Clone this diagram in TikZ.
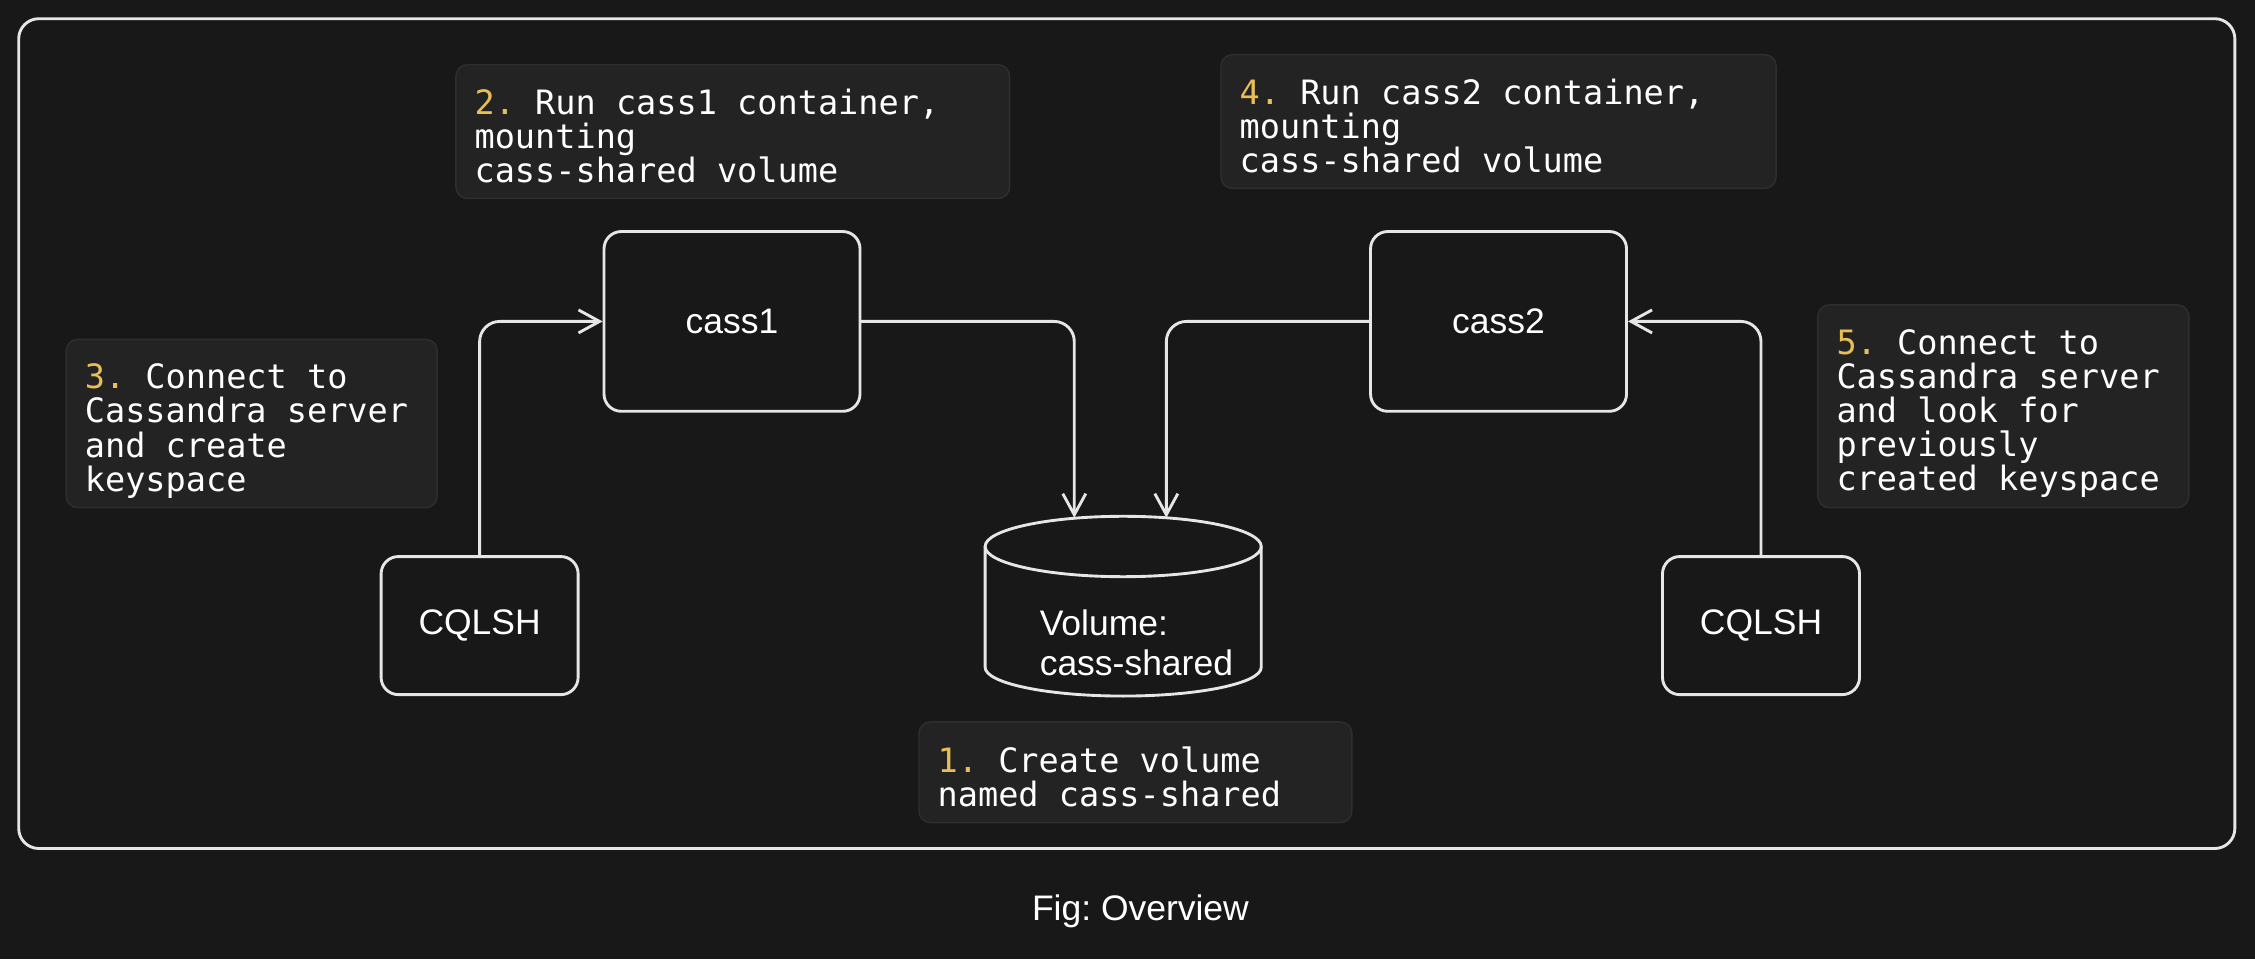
\documentclass[tikz,border=0pt]{standalone}
\usepackage{fontspec}
\setmainfont{Liberation Sans}
\newfontfamily\codefont{DejaVu Sans Mono}
\usetikzlibrary{arrows.meta}
\frenchspacing

\definecolor{bgdark}{HTML}{181818}
\definecolor{inkwhite}{HTML}{E6E6E6}
\definecolor{notefill}{HTML}{232323}
\definecolor{noteline}{HTML}{2E2E2E}
\definecolor{stepyellow}{HTML}{E9BE55}

\newcommand{\stepno}[1]{\textcolor{stepyellow}{#1}}

\tikzset{every picture/.style={line width=1.5pt}}
\tikzset{
  box/.style={draw=inkwhite, rounded corners=9pt, text=white, font=\fontsize{18.5pt}{21pt}\selectfont},
  note/.style={fill=notefill, draw=noteline, line width=0.75pt, rounded corners=6pt, text=white, align=flush left,
    inner xsep=9.75pt, inner ysep=0pt, font=\codefont\fontsize{17.5pt}{17.8pt}\selectfont\frenchspacing},
  textdrop/.style={execute at begin node={\rule{0pt}{#1}}},
  link/.style={draw=inkwhite, rounded corners=10.5pt, line cap=round, -{Straight Barb[length=11pt,width=12pt]}},
}

\begin{document}
\begin{tikzpicture}[x=0.75pt,y=0.75pt,yscale=-1,xscale=1]
	%set diagram to 1568 x 667
	\fill[bgdark] (0,0) rectangle (1568,667);

	%Shape: Frame
	\draw[inkwhite, rounded corners=10.5pt] (13,13) rectangle (1554,590);

	% Note Nodes
	\node (note2) at (509.5,91.5) [note, textdrop=17.8pt, text width=269.25pt, minimum height=69.75pt] {\stepno{2.} Run cass1 container,\\mounting\\cass-shared volume};
	\node (note4) at (1042,84.5) [note, textdrop=17.8pt, text width=270pt, minimum height=69.75pt] {\stepno{4.} Run cass2 container,\\mounting\\cass-shared volume};
	\node (note3) at (175,294.5) [note, textdrop=20.8pt, text width=174pt, minimum height=87.75pt] {\stepno{3.} Connect to\\Cassandra server\\and create\\keyspace};
	\node (note5) at (1393,282.5) [note, textdrop=20.8pt, text width=174pt, minimum height=105.75pt] {\stepno{5.} Connect to\\Cassandra server\\and look for\\previously\\created keyspace};
	\node (note1) at (789.5,537) [note, textdrop=17.8pt, text width=206.25pt, minimum height=52.5pt] {\stepno{1.} Create volume\\named cass-shared};

	% Containers and shells
	\node (cass1) at (509,223.5) [box, minimum width=133.5pt, minimum height=93.75pt] {cass1};
	\node (cass2) at (1042,223.5) [box, minimum width=133.5pt, minimum height=93.75pt] {cass2};
	\node (cqlshA) at (333.5,435) [box, minimum width=102.75pt, minimum height=72pt] {CQLSH};
	\node (cqlshB) at (1224.5,435) [box, minimum width=102.75pt, minimum height=72pt] {CQLSH};

	%Shape: Can
	\draw[inkwhite] (685,380) -- (685,464) arc[start angle=180, end angle=0, x radius=72pt, y radius=15pt] -- (877,380);
	\draw[inkwhite] (781,380) ellipse [x radius=72pt, y radius=15.75pt];
	\node (vol) at (722,447) [anchor=west, inner sep=0pt, align=flush left, text=white, font=\fontsize{18.5pt}{20.5pt}\selectfont] {Volume:\\cass-shared};
	\coordinate (volinA) at (747,360);
	\coordinate (volinB) at (811,360);

	% Connectors
	\draw[link] (cqlshA.north) |- (cass1.west);
	\draw[link] (cass1.east) -| (volinA);
	\draw[link] (cass2.west) -| (volinB);
	\draw[link] (cqlshB.north) |- (cass2.east);

	% Text Node
	\node (caption) at (793,634) [text=white, font=\fontsize{18.5pt}{21pt}\selectfont] {Fig: Overview};

\end{tikzpicture}
\end{document}
